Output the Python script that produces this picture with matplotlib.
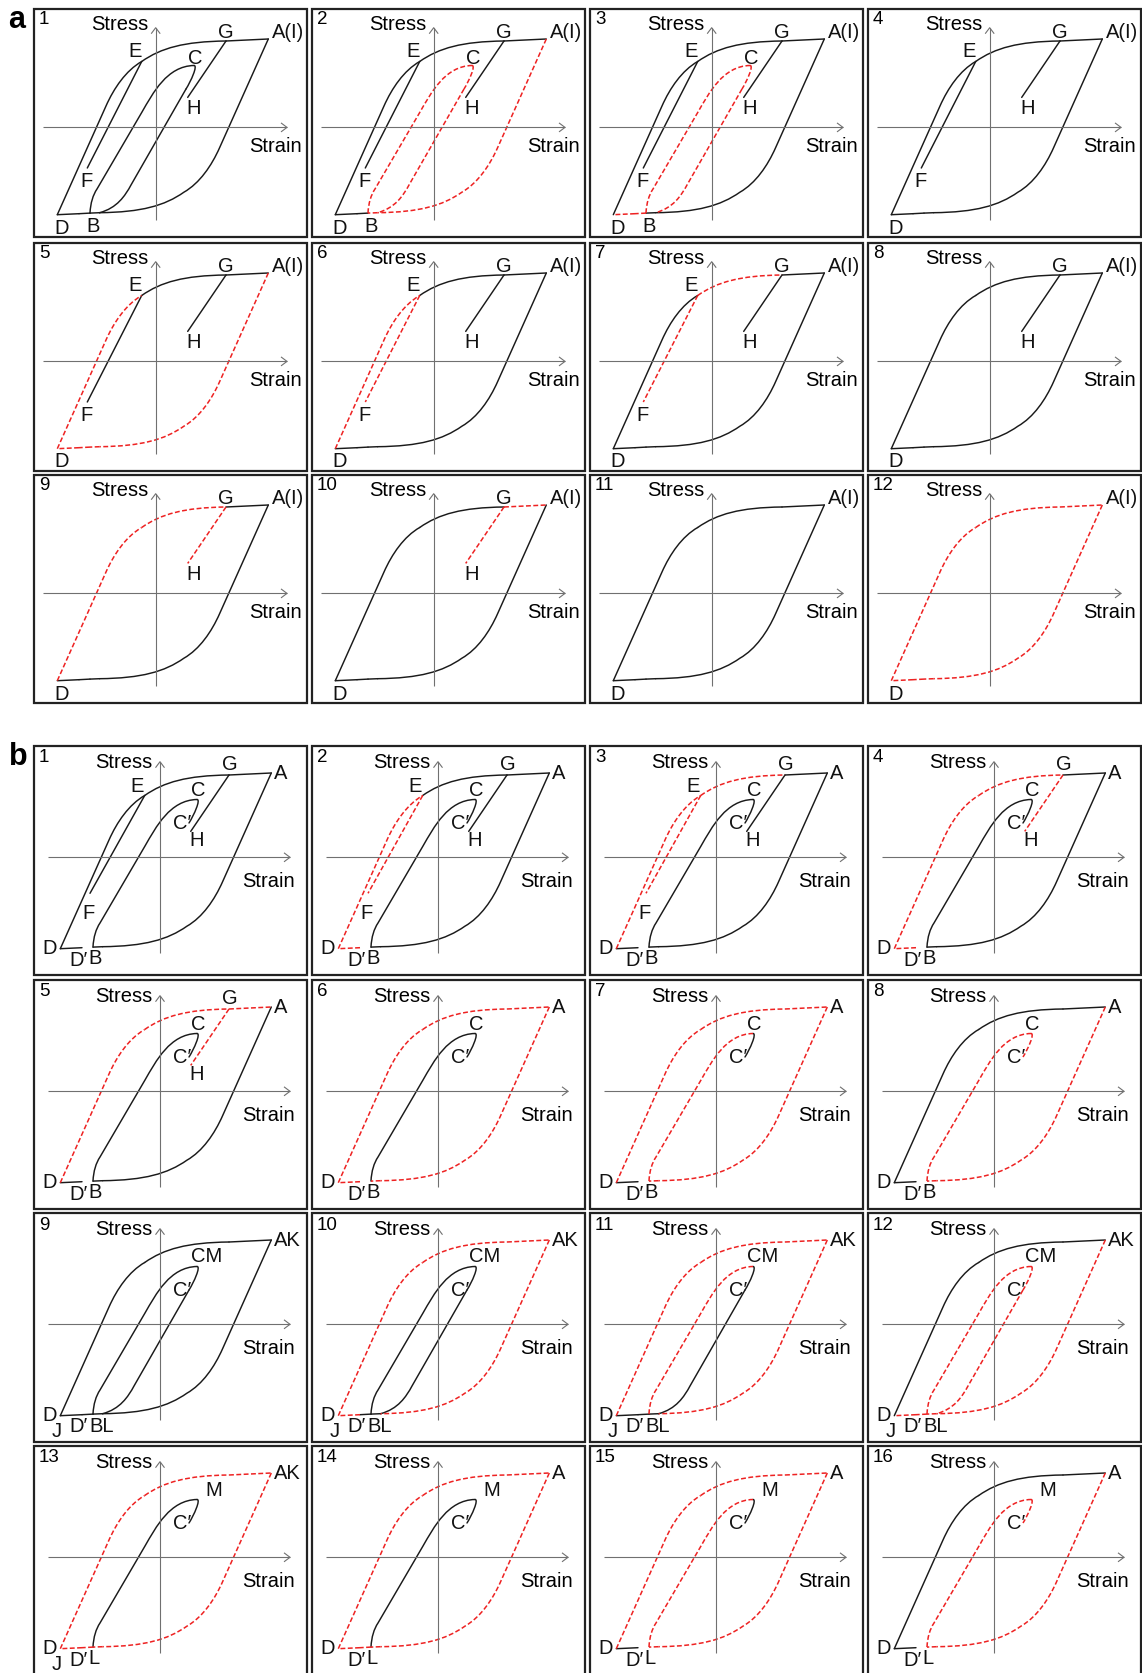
import matplotlib.pyplot as plt
from matplotlib.path import Path
from matplotlib.patches import PathPatch, Rectangle
from matplotlib.transforms import Affine2D

plt.rcParams['font.family'] = ['Liberation Sans', 'DejaVu Sans']

W, H = 1142, 1673
COLS = [34, 312, 590, 868]
ROWS_A = [9, 243, 475]
ROWS_B = [746, 980, 1213, 1446]
BOX_W = 273
BOX_H_A, BOX_H_B = 228, 229

# turning points of the loops, in panel pixels from the lower-left corner
D = (23.3, 22.3)
A = (234.3, 198.0)
E = (107.7, 175.5)
G = (192.0, 196.0)
H_PT = (153.7, 139.6)
B = (56.0, 23.9)
R = (65.6, 24.3)    # inner loop rejoins the outer loop
DP = (45.0, 23.3)   # D'
C = (160.0, 171.5)
CP = (152.0, 148.0)  # C'
F_A = (53.3, 69.0)
F_B = (53.0, 77.7)

# each piece: start point, then a point (straight step) or three points (cubic step)
SEGMENTS = {
    'DE': [D, (72, 131), ((80, 149), (92, 166.5), E)],
    'EG': [E, ((127, 189), (150, 195.5), G)],
    'GA': [G, A],
    'AR': [A, (185.6, 89.3), ((177.6, 71.3), (165.6, 53.8), (149.9, 44.8)),
           ((130.6, 31.3), (107.6, 24.8), R)],
    'RB': [R, B],
    'BP': [B, DP],
    'PD': [DP, D],
    'GH': [G, H_PT],
    'BC': [B, ((56.5, 34), (59, 42), (63, 48)), (108, 125),
           ((119, 144), (133, 171), C)],
    'CK': [C, ((164, 171.5), (157, 156), CP)],
    'KR': [CP, (97, 52), ((91, 41), (83, 29), R)],
}
SEG_A = dict(SEGMENTS, EF=[E, F_A])
SEG_B = dict(SEGMENTS, EF=[E, F_B])

# part a: solid black pieces, red dashed pieces and letters of panels 1-12
BLACK_A = [
    'DE EG GA AR RB BP PD EF GH BC CK KR',
    'DE EG GA BP PD EF GH',
    'DE EG GA AR RB EF GH',
    'DE EG GA AR RB BP PD EF GH',
    'EG GA EF GH',
    'EG GA AR RB BP PD GH',
    'DE GA GH AR RB BP PD',
    'DE EG GA AR RB BP PD GH',
    'GA AR RB BP PD',
    'DE EG AR RB BP PD',
    'DE EG GA AR RB BP PD',
    '',
]
RED_A = [
    '',
    'BC CK KR AR RB',
    'BC CK KR BP PD',
    '',
    'DE AR RB BP PD',
    'DE EF',
    'EF EG',
    '',
    'DE EG GH',
    'GA GH',
    '',
    'DE EG GA AR RB BP PD',
]
LABELS_A = [
    'D B F E C G H A(I)', 'D B F E C G H A(I)', 'D B F E C G H A(I)',
    'D F E G H A(I)', 'D F E G H A(I)', 'D F E G H A(I)', 'D F E G H A(I)',
    'D G H A(I)', 'D G H A(I)', 'D G H A(I)',
    'D A(I)', 'D A(I)',
]

# part b: panels 1-16
BLACK_B = [
    'DE EG GA AR RB PD EF GH BC CK',
    'EG GA AR RB GH BC CK',
    'GA AR RB PD GH BC CK',
    'GA AR RB BC CK',
    'AR RB PD BC CK',
    'BC CK',
    'PD CK',
    'DE EG GA PD',
    'DE EG GA AR RB BP PD BC CK KR',
    'RB BP BC CK KR',
    'PD RB BP CK KR',
    'DE EG GA',
    'BC CK',
    'BC CK',
    'PD CK',
    'DE EG GA PD',
]
RED_B = [
    '',
    'DE EF PD',
    'DE EG EF',
    'DE EG GH PD',
    'DE EG GA GH',
    'DE EG GA AR RB PD',
    'DE EG GA AR RB BC',
    'AR RB BC CK',
    '',
    'DE EG GA AR PD',
    'DE EG GA AR BC',
    'AR RB BP PD BC CK KR',
    'DE EG GA AR RB BP PD',
    'DE EG GA AR RB BP PD',
    'DE EG GA AR RB BC',
    'AR RB BC CK',
]
LABELS_B = [
    "D D′ B F E C C′ G H A", "D D′ B F E C C′ G H A", "D D′ B F E C C′ G H A",
    "D D′ B C C′ G H A", "D D′ B C C′ G H A",
    "D D′ B C C′ A", "D D′ B C C′ A", "D D′ B C C′ A",
    "D J D′ BL CM C′ AK", "D J D′ BL CM C′ AK", "D J D′ BL CM C′ AK",
    "D J D′ BL CM C′ AK",
    "D J D′ L M C′ AK",
    "D D′ L M C′ A", "D D′ L M C′ A", "D D′ L M C′ A",
]

# letter positions (x, y, horizontal alignment)
POS_A = {
    'D': (27.7, 9, 'center'), 'B': (59.3, 10.6, 'center'),
    'F': (52.7, 55.6, 'center'), 'E': (101, 185.6, 'center'),
    'C': (161, 179, 'center'), 'G': (192, 204.6, 'center'),
    'H': (159.3, 129, 'center'), 'A(I)': (237.5, 204, 'left'),
}
POS_B = {
    'D': (15.5, 26.5, 'center'), "D′": (44.3, 15, 'center'),
    'B': (61, 16.7, 'center'), 'F': (54.3, 61.7, 'center'),
    'E': (102.7, 188.3, 'center'), 'C': (164.3, 185, 'center'),
    "C′": (147.7, 151.7, 'center'), 'H': (162.7, 135, 'center'),
    'G': (196, 211, 'center'), 'A': (240.3, 201.7, 'left'),
    'AK': (240.3, 201.7, 'left'), 'CM': (172.7, 185, 'center'),
    'M': (180, 185, 'center'), 'J': (23, 10.5, 'center'),
    'BL': (67.7, 15.5, 'center'), 'L': (60, 16, 'center'),
}

# origin x, origin y, stress axis bottom/top, strain axis left/right, label spots
AXES_A = dict(x0=121.7, y0=109.6, yb=17.3, yt=209.3, xl=9, xr=253,
              stress=(114, 212), strain=(241.3, 90.6))
AXES_B = dict(x0=126, y0=117.7, yb=21.7, yt=213.3, xl=13.7, xr=256,
              stress=(118, 212.3), strain=(234.8, 93.3))

BLACK = '#1a1a1a'
RED = '#ee2222'
AXIS_C = '#707070'
FS = 14.5

fig = plt.figure(figsize=(W / 100, H / 100), dpi=100)


def make_path(steps):
    verts, codes = [steps[0]], [Path.MOVETO]
    for st in steps[1:]:
        if isinstance(st[0], tuple):
            verts += list(st)
            codes += [Path.CURVE4] * 3
        else:
            verts.append(st)
            codes.append(Path.LINETO)
    return Path(verts, codes)


def draw_panel(left, top, h, num, black, red, labels, segs, pos, axcfg, shift):
    ax = fig.add_axes([left / W, 1 - (top + h) / H, BOX_W / W, h / H])
    ax.set_xlim(0, BOX_W)
    ax.set_ylim(0, h)
    ax.axis('off')
    ax.add_patch(Rectangle((0, 0), 1, 1, transform=ax.transAxes, fill=False,
                           lw=1.6, ec='#222222', clip_on=False))

    # coordinate axes with open arrow heads
    x0, y0 = axcfg['x0'], axcfg['y0']
    yb, yt, xl, xr = axcfg['yb'], axcfg['yt'], axcfg['xl'], axcfg['xr']
    kw = dict(color=AXIS_C, lw=0.8, solid_capstyle='butt')
    ax.plot([x0, x0], [yb, yt], **kw)
    ax.plot([x0 - 4.5, x0, x0 + 4.5], [yt - 6, yt, yt - 6], **kw)
    ax.plot([xl, xr], [y0, y0], **kw)
    ax.plot([xr - 6, xr, xr - 6], [y0 + 4.5, y0, y0 - 4.5], **kw)
    sx, sy = axcfg['stress']
    ax.text(sx, sy, 'Stress', fontsize=FS, ha='right', va='center')
    sx, sy = axcfg['strain']
    ax.text(sx, sy, 'Strain', fontsize=FS, ha='center', va='center')

    tr = Affine2D().translate(*shift) + ax.transData
    for name in black.split():
        ax.add_patch(PathPatch(make_path(segs[name]), fill=False, ec=BLACK,
                               lw=1.05, transform=tr, capstyle='round'))
    for name in red.split():
        ax.add_patch(PathPatch(make_path(segs[name]), fill=False, ec=RED,
                               lw=1.1, ls=(0, (3.2, 1.6)), transform=tr))

    for lab in labels.split():
        x, y, ha = pos[lab]
        ax.text(x, y, lab, fontsize=FS, ha=ha, va='center', color='#111111')
    ax.text(5, 217, str(num), fontsize=13.5, ha='left', va='center')


for i in range(12):
    r, c = divmod(i, 4)
    draw_panel(COLS[c], ROWS_A[r], BOX_H_A, i + 1, BLACK_A[i], RED_A[i],
               LABELS_A[i], SEG_A, POS_A, AXES_A, (0, 0))

for i in range(16):
    r, c = divmod(i, 4)
    draw_panel(COLS[c], ROWS_B[r], BOX_H_B, i + 1, BLACK_B[i], RED_B[i],
               LABELS_B[i], SEG_B, POS_B, AXES_B, (3, 4))

fig.text(16.7 / W, 1 - 20 / H, 'a', fontsize=22, fontweight='bold',
         ha='center', va='center')
fig.text(18.5 / W, 1 - 757 / H, 'b', fontsize=22, fontweight='bold',
         ha='center', va='center')

fig.savefig('out.png', dpi=100)
